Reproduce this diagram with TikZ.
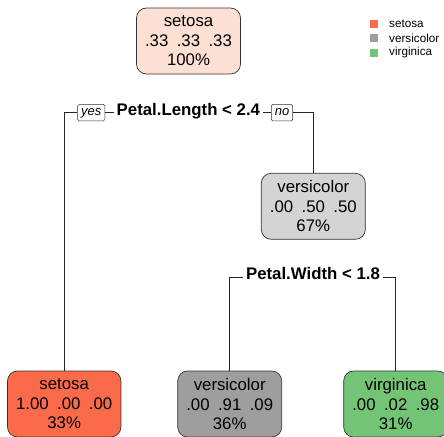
\documentclass[tikz,border=0pt]{standalone}
\usepackage{fontspec}
\setmainfont{Liberation Sans}
\usepackage{tikz}

\definecolor{rootpeach}{HTML}{FCE0D3}
\definecolor{midgray}{HTML}{D4D4D4}
\definecolor{setosared}{HTML}{FB6A4A}
\definecolor{versigray}{HTML}{9E9E9E}
\definecolor{virgigreen}{HTML}{74C476}
\newcommand{\pgap}{\hspace{0.5em}}

\begin{document}
\begin{tikzpicture}[x=1pt,y=-1pt,
  treebox/.style={draw=black!80, line width=0.7pt, rounded corners=10pt, align=center,
    inner xsep=8.6pt, minimum height=66pt, font=\fontsize{16.8}{19.5}\selectfont},
  splitlab/.style={font=\fontsize{16.8}{19.5}\selectfont\bfseries, inner xsep=3pt,
    inner ysep=0pt, text height=11pt, text depth=6pt},
  branchlab/.style={draw=black!80, line width=0.5pt, rounded corners=1.5pt,
    font=\fontsize{13}{15}\selectfont\itshape, inner xsep=3.5pt, inner ysep=3pt,
    text height=8pt, text depth=2.5pt},
  edge/.style={draw=black!85, line width=0.7pt},
  keybox/.style={minimum size=8pt, inner sep=0pt},
  keylab/.style={anchor=west, inner sep=0pt, font=\fontsize{11.7}{14}\selectfont}]

\useasboundingbox (0,0) rectangle (444,436);

\node (root) at (188.5,41) [treebox, fill=rootpeach] {setosa\\.33\pgap.33\pgap.33\\100\%};
\node (versiMid) at (313.3,206.3) [treebox, fill=midgray] {versicolor\\.00\pgap.50\pgap.50\\67\%};

\node (setosaLeaf) at (64.2,404) [treebox, fill=setosared] {setosa\\1.00\pgap.00\pgap.00\\33\%};
\node (versiLeaf) at (229.7,404) [treebox, fill=versigray] {versicolor\\.00\pgap.91\pgap.09\\36\%};
\node (virgiLeaf) at (395.7,404) [treebox, fill=virgigreen] {virginica\\.00\pgap.02\pgap.98\\31\%};

\node (split1) at (188.4,112.7) [splitlab] {Petal.Length < 2.4};
\node (yes) at (91.3,112.7) [branchlab] {yes};
\node (no) at (282,112.7) [branchlab] {no};
\node (split2) at (313,277.3) [splitlab] {Petal.Width < 1.8};

\draw[edge] (setosaLeaf) |- (yes);
\draw[edge] (yes) -- (split1);
\draw[edge] (split1) -- (no);
\draw[edge] (no) -| (versiMid);
\draw[edge] (versiLeaf) |- (split2);
\draw[edge] (split2) -| (virgiLeaf);

% legend
\node (keySetosa) at (374.2,24) [keybox, fill=setosared] {};
\node (keyVersi) at (374.2,38.3) [keybox, fill=versigray] {};
\node (keyVirgi) at (374.2,52.7) [keybox, fill=virgigreen] {};
\node at (389,24) [keylab] {setosa};
\node at (389,38.3) [keylab] {versicolor};
\node at (389,52.7) [keylab] {virginica};
\end{tikzpicture}
\end{document}
